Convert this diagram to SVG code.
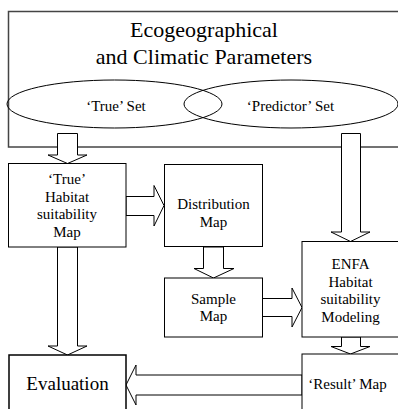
<svg xmlns="http://www.w3.org/2000/svg" width="398" height="409" viewBox="0 0 398 409">
<style>
.t{font-size:15px}
.big{font-size:22px}
.box{fill:#fff;stroke:#000;stroke-width:1}
.ell{fill:none;stroke:#000;stroke-width:1}
.arr{fill:#fff;stroke:#000;stroke-width:1;stroke-linejoin:miter}
</style>
<rect width="398" height="409" fill="#fff"/>
<g font-family="Liberation Serif, Times New Roman, Tinos, DejaVu Serif, serif" text-anchor="middle" fill="#000">
<g id="params">
<rect x="8.5" y="11.5" width="400" height="135.5" fill="#fff" stroke="#444" stroke-width="1.5"/>
<text class="big" x="204" y="37">Ecogeographical</text>
<text class="big" x="204" y="63.5">and Climatic Parameters</text>
</g>
<g id="trueset">
<ellipse class="ell" cx="114.5" cy="104" rx="107.5" ry="24"/>
<text class="t" x="116" y="111">‘True’ Set</text>
</g>
<g id="predset">
<ellipse class="ell" cx="291" cy="104" rx="107" ry="24"/>
<text class="t" x="290.5" y="111">‘Predictor’ Set</text>
</g>
<g id="connectors">
<polygon class="arr" points="57.5,133.5 77.5,133.5 77.5,155 87,155 67.5,163.5 48,155 57.5,155"/>
<polygon class="arr" points="341.5,133.5 360.5,133.5 360.5,232 370,232 350.5,241.5 331,232 341.5,232"/>
<polygon class="arr" points="126,196.5 154,196.5 154,185.5 164,205.5 154,226 154,215.5 126,215.5"/>
<polygon class="arr" points="203.5,247 223.5,247 223.5,268.5 234,268.5 213.5,278 194,268.5 203.5,268.5"/>
<polygon class="arr" points="262,298.5 292,298.5 292,288 302,307.5 292,327 292,316.5 262,316.5"/>
<polygon class="arr" points="341.5,337 360.5,337 360.5,346.5 370,346.5 350.5,354 331,346.5 341.5,346.5"/>
<polygon class="arr" points="57.5,247 77.5,247 77.5,346 87,346 67.5,355 48,346 57.5,346"/>
<polygon class="arr" points="302,375 136,375 136,365 126,385 136,405 136,395 302,395"/>
</g>
<g id="truemap">
<rect class="box" x="8.5" y="163.5" width="117.5" height="83.5"/>
<text class="t" x="67" y="184">‘True’</text>
<text class="t" x="67" y="201.5">Habitat</text>
<text class="t" x="67" y="219">suitability</text>
<text class="t" x="67" y="236.5">Map</text>
</g>
<g id="distmap">
<rect class="box" x="164.5" y="164.5" width="98" height="82"/>
<text class="t" x="213.5" y="209">Distribution</text>
<text class="t" x="213.5" y="226.5">Map</text>
</g>
<g id="samplemap">
<rect class="box" x="164.5" y="278" width="98" height="59"/>
<text class="t" x="213.5" y="304">Sample</text>
<text class="t" x="213.5" y="321">Map</text>
</g>
<g id="enfa">
<rect class="box" x="302" y="241.5" width="110" height="95.5"/>
<text class="t" x="350.5" y="269">ENFA</text>
<text class="t" x="350.5" y="286.5">Habitat</text>
<text class="t" x="350.5" y="304">suitability</text>
<text class="t" x="350.5" y="321.5">Modeling</text>
</g>
<g id="result">
<rect class="box" x="302" y="354" width="110" height="70"/>
<text class="t" x="347.5" y="388.5">‘Result’ Map</text>
</g>
<g id="evaluation">
<rect x="9" y="355" width="117" height="70" fill="#fff" stroke="#000" stroke-width="1.5"/>
<text x="67.5" y="389.5" font-size="19">Evaluation</text>
</g>
</g>
</svg>
